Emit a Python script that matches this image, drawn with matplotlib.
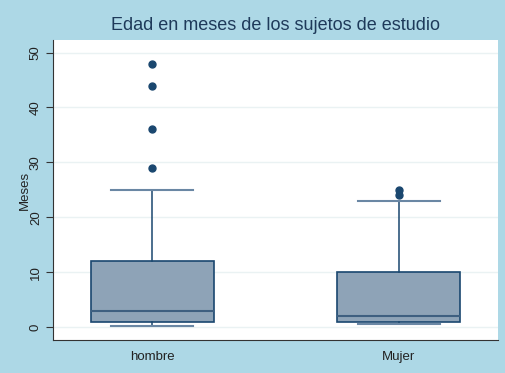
import numpy as np
import matplotlib
matplotlib.use("Agg")
import matplotlib.pyplot as plt

plt.rcParams["font.family"] = ["Liberation Sans", "DejaVu Sans"]

# box statistics
groups = ["hombre", "Mujer"]
whislo = [0.2, 0.5]
q1 = [1, 1]
med = [3, 2]
q3 = [12, 10]
whishi = [25, 23]
fliers = [[29, 36, 44, 48], [24, 25]]

navy = "#1a476f"
fill = "#8ea3b7"
bg = "#add8e6"

stats = []
for i in range(len(groups)):
	stats.append({"label": groups[i], "whislo": whislo[i], "q1": q1[i], "med": med[i],
				  "q3": q3[i], "whishi": whishi[i], "fliers": fliers[i]})

fig = plt.figure(figsize=(5.06, 3.73), dpi=100, facecolor=bg)
ax = fig.add_axes([53/506, 1-340/373, 445/506, 300/373])
ax.set_facecolor("white")

ax.bxp(stats, positions=[1, 2], widths=0.5, patch_artist=True,
	   boxprops=dict(facecolor=fill, edgecolor=navy, linewidth=1.2),
	   medianprops=dict(color="#3e5f80", linewidth=1.5),
	   whiskerprops=dict(color=navy, linewidth=1.1),
	   capprops=dict(color="#6a87a4", linewidth=1.5),
	   capwidths=0.333,
	   flierprops=dict(marker="o", markerfacecolor=navy, markeredgecolor=navy, markersize=5))

ax.set_xlim(0.597, 2.403)
ax.set_ylim(-2.37, 52.3)
ax.set_yticks([0, 10, 20, 30, 40, 50])
ax.set_yticklabels(["0", "10", "20", "30", "40", "50"], rotation=90, va="center", fontsize=9.5)
ax.tick_params(axis="y", length=5, color="#333333", labelcolor="#222222", pad=3)
ax.tick_params(axis="x", length=0, labelsize=9.5, labelcolor="#222222", pad=8)
ax.yaxis.grid(True, color="#eaf2f3", linewidth=1)
ax.set_axisbelow(True)
for s in ["top", "right"]:
	ax.spines[s].set_visible(False)
for s in ["left", "bottom"]:
	ax.spines[s].set_color("#333333")

ax.set_ylabel("Meses", fontsize=9.5, labelpad=-1, color="#222222")
ax.set_title("Edad en meses de los sujetos de estudio", fontsize=13, color="#1e3a5a", pad=7)

fig.savefig("out.png", dpi=100, facecolor=bg)
